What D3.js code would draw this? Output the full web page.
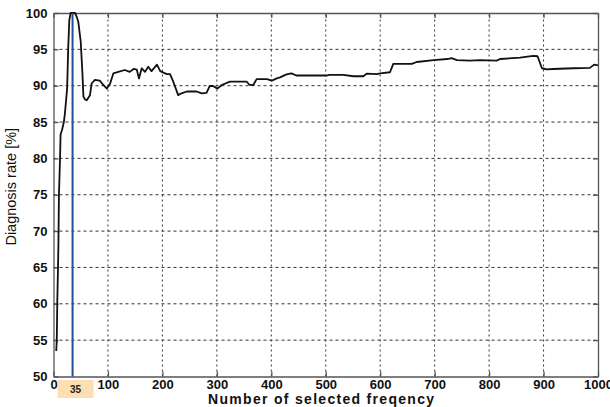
<!DOCTYPE html>
<html>
<head>
<meta charset="utf-8">
<script src="https://cdn.jsdelivr.net/npm/d3@7"></script>
<style>
  body { margin: 0; background: #fff; }
  svg { display: block; }
</style>
</head>
<body>
<div id="chart"></div>
<script>
// Diagnosis rate vs number of selected frequencies.

// curve
var freqCount = [5, 6, 7, 8, 9, 10, 12, 13, 16, 19, 21, 25, 27, 29, 31.5, 35, 39.5, 42, 45.5,
    50, 53, 55, 58, 61, 67, 70, 76, 85, 91.5, 98, 104, 110, 119, 131, 140, 147, 153, 157,
    162, 168, 174, 180, 190, 196, 208, 214, 220, 229, 235, 245, 263, 272, 281, 287, 293,
    301, 309, 324, 355, 360, 367, 373, 392, 401, 410, 416, 428, 437, 446, 501, 507, 532,
    551, 569, 575, 594, 600, 618, 624, 658, 667, 698, 723, 731, 741, 765, 783, 814, 820,
    857, 881, 889, 897, 906, 918, 955, 985, 993, 1000];
var diagRate = [53.5, 55, 60.5, 64, 68, 75, 80, 83.3, 84, 85, 86.2, 89.6, 95.1, 99, 100, 100, 100, 99.6, 98.8,
    96.05, 91.9, 88.5, 88.1, 88.0, 88.7, 90.3, 90.8, 90.7, 90.1, 89.6, 90.3, 91.7, 91.9, 92.16, 91.9, 92.3, 92.2, 91.0,
    92.4, 91.9, 92.6, 92.0, 92.9, 92.0, 91.6, 91.6, 90.55, 88.7, 88.95, 89.2, 89.2, 88.95, 89.0, 89.96, 89.96,
    89.6, 90.1, 90.55, 90.55, 90.1, 90.1, 90.9, 90.9, 90.7, 91.0, 91.15, 91.55, 91.7, 91.4, 91.4, 91.5, 91.5,
    91.3, 91.3, 91.65, 91.6, 91.7, 91.85, 93.0, 93.0, 93.26, 93.53, 93.67, 93.8, 93.53, 93.45, 93.53, 93.45, 93.67,
    93.86, 94.1, 94.05, 92.4, 92.25, 92.3, 92.4, 92.45, 92.9, 92.8];

var xTicks = [0, 100, 200, 300, 400, 500, 600, 700, 800, 900, 1000];
var yTicks = [50, 55, 60, 65, 70, 75, 80, 85, 90, 95, 100];
var bestCount = 35;

var W = 610, H = 407;
var m = {left: 53.5, right: 12, top: 13, bottom: 30.5};

var svg = d3.select("#chart").append("svg")
    .attr("width", W)
    .attr("height", H);

var x = d3.scaleLinear().domain([0, 1000]).range([m.left, W - m.right]);
var y = d3.scaleLinear().domain([50, 100]).range([H - m.bottom, m.top]);

// dotted grid
svg.append("g").selectAll("line").data(xTicks.slice(1, -1)).enter()
    .append("line")
    .attr("x1", d => x(d)).attr("x2", d => x(d))
    .attr("y1", y(50)).attr("y2", y(100))
    .style("stroke", "#333").style("stroke-width", 1)
    .style("stroke-dasharray", "2,3");
svg.append("g").selectAll("line").data(yTicks.slice(1, -1)).enter()
    .append("line")
    .attr("x1", x(0)).attr("x2", x(1000))
    .attr("y1", d => y(d)).attr("y2", d => y(d))
    .style("stroke", "#333").style("stroke-width", 1)
    .style("stroke-dasharray", "3,3");

// frame + axes (ticks inward, matlab style)
var axisFont = "'Liberation Sans', Arial, sans-serif";
var xAxis = svg.append("g")
    .attr("transform", "translate(0," + y(50) + ")")
    .call(d3.axisBottom(x).tickValues(xTicks).tickFormat(d3.format("d"))
        .tickSizeInner(-5).tickSizeOuter(0).tickPadding(3));
var yAxis = svg.append("g")
    .attr("transform", "translate(" + x(0) + ",0)")
    .call(d3.axisLeft(y).tickValues(yTicks).tickSizeInner(-5).tickSizeOuter(0).tickPadding(6));
svg.append("g")
    .attr("transform", "translate(0," + y(100) + ")")
    .call(d3.axisTop(x).tickValues(xTicks).tickSizeInner(-5).tickSizeOuter(0).tickFormat(""));
svg.append("g")
    .attr("transform", "translate(" + x(1000) + ",0)")
    .call(d3.axisRight(y).tickValues(yTicks).tickSizeInner(-5).tickSizeOuter(0).tickFormat(""));

svg.selectAll(".domain, .tick line").style("stroke", "#555").style("stroke-width", 1.3);
svg.selectAll(".tick text")
    .style("font-family", axisFont)
    .style("font-weight", "bold")
    .style("font-size", "13px")
    .style("fill", "#111");

// the curve
var line = d3.line()
    .x((d, i) => x(freqCount[i]))
    .y(d => y(d))
    .curve(d3.curveLinear);
svg.append("path")
    .datum(diagRate)
    .attr("d", line)
    .style("fill", "none")
    .style("stroke", "#111")
    .style("stroke-width", 1.8)
    .style("stroke-linejoin", "round");

// marker for the best count
svg.append("line")
    .attr("x1", x(bestCount)).attr("x2", x(bestCount))
    .attr("y1", y(100)).attr("y2", y(50))
    .style("stroke", "#1f4f96")
    .style("stroke-width", 2);

svg.append("rect")
    .attr("x", x(bestCount) - 15).attr("y", y(50) + 3.5)
    .attr("width", 36).attr("height", 18)
    .style("fill", "#fddfb3");
svg.append("text")
    .attr("x", x(bestCount) + 3).attr("y", y(50) + 16.5)
    .attr("text-anchor", "middle")
    .style("font-family", axisFont)
    .style("font-weight", "bold")
    .style("font-size", "10px")
    .style("fill", "#222")
    .text(bestCount);

// axis titles
svg.append("text")
    .attr("x", (x(0) + x(1000)) / 2 - 4)
    .attr("y", H - 3)
    .attr("text-anchor", "middle")
    .style("font-family", axisFont)
    .style("font-weight", "bold")
    .style("font-size", "14px")
    .style("letter-spacing", "1.3px")
    .style("fill", "#111")
    .text("Number of selected freqency");

svg.append("text")
    .attr("transform", "translate(16," + ((y(50) + y(100)) / 2 - 8) + ") rotate(-90)")
    .attr("text-anchor", "middle")
    .style("font-family", axisFont)
    .style("font-size", "14.5px")
    .style("fill", "#111")
    .text("Diagnosis rate [%]");
</script>
</body>
</html>
